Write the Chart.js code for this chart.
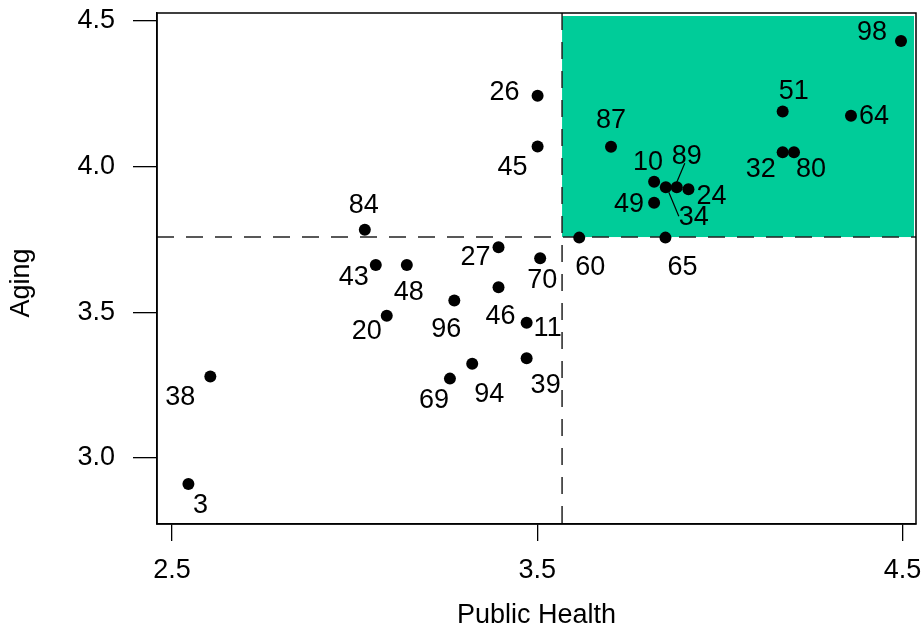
<!DOCTYPE html>
<html>
<head>
<meta charset="utf-8">
<script src="https://cdn.jsdelivr.net/npm/chart.js@4/dist/chart.umd.min.js"></script>
<style>
  html, body { margin: 0; padding: 0; background: #fff; }
  #wrap { width: 923px; height: 630px; }
</style>
</head>
<body>
<div id="wrap"><canvas id="c" width="923" height="630"></canvas></div>
<script>
// Region ids and their two scores
const ids          = [98, 51, 64, 32, 80, 87, 10, 34, 89, 24, 49, 60, 65, 26, 45, 84, 27, 70, 43, 48, 46, 96, 20, 11, 39, 94, 69, 38, 3];
const publicHealth = [4.496, 4.172, 4.359, 4.172, 4.203, 3.702, 3.820, 3.852, 3.882, 3.914, 3.820, 3.615, 3.851, 3.501, 3.501, 3.028, 3.394, 3.508, 3.058, 3.143, 3.394, 3.273, 3.088, 3.471, 3.471, 3.322, 3.261, 2.605, 2.545];
const aging        = [4.431, 4.189, 4.174, 4.049, 4.049, 4.068, 3.948, 3.929, 3.929, 3.922, 3.876, 3.756, 3.756, 4.243, 4.069, 3.783, 3.723, 3.685, 3.662, 3.662, 3.586, 3.540, 3.488, 3.464, 3.342, 3.323, 3.272, 3.279, 2.910];

// Axis ticks and ranges
const xTicks = [2.5, 3.5, 4.5];
const yTicks = [3.0, 3.5, 4.0, 4.5];
const xRange = [2.459, 4.537];
const yRange = [2.773, 4.527];

// Cut-off values that split the plot into quadrants
const cutPublicHealth = 3.568;
const cutAging = 3.758;

// Where each id label sits relative to its point, in pixels
const labelOffsets = [
  [-29, -8], [11, -20], [23, 1], [-22, 17], [17, 17], [0, -26], [-6, -19], [28, 30], [10, -31], [23, 7],
  [-25, 2], [11, 30], [17, 30], [-33, -3], [-25, 21], [-1, -24], [-23, 10], [2, 22], [-22, 13], [2, 28],
  [2, 29], [-8, 29], [-20, 16], [21, 6], [19, 27], [17, 31], [-16, 22], [-30, 21], [12, 21]
];
// Leader lines for crowded labels: id, start offset, end offset (pixels from the point)
const leaders = [
  [89, [8, -24], [0, -5]],
  [34, [3, 5], [13, 29]]
];

const FONT = "'Liberation Sans', Arial, Helvetica, sans-serif";

const quadrantPlugin = {
  id: 'quadrant',
  beforeDatasetsDraw(chart) {
    const { ctx, chartArea: a, scales: { x, y } } = chart;
    const cx = x.getPixelForValue(cutPublicHealth);
    const cy = y.getPixelForValue(cutAging);
    ctx.save();
    // highlighted high/high quadrant
    ctx.fillStyle = '#00CC99';
    ctx.fillRect(cx, a.top + 3, a.right - 2 - cx, cy - a.top - 3);
    // dashed cut lines
    ctx.strokeStyle = '#222';
    ctx.lineWidth = 1.5;
    ctx.setLineDash([17, 12]);
    ctx.beginPath();
    ctx.moveTo(cx, a.top);
    ctx.lineTo(cx, a.bottom);
    ctx.moveTo(a.left, cy);
    ctx.lineTo(a.right, cy);
    ctx.stroke();
    ctx.restore();
  },
  afterDatasetsDraw(chart) {
    const { ctx, chartArea: a, scales: { x, y } } = chart;
    ctx.save();
    // frame around the plotting region
    ctx.strokeStyle = '#000';
    ctx.lineWidth = 1.5;
    ctx.strokeRect(a.left, a.top, a.right - a.left, a.bottom - a.top);
    // leader lines
    ctx.lineWidth = 1.2;
    leaders.forEach(([id, p0, p1]) => {
      const i = ids.indexOf(id);
      const px = x.getPixelForValue(publicHealth[i]);
      const py = y.getPixelForValue(aging[i]);
      ctx.beginPath();
      ctx.moveTo(px + p0[0], py + p0[1]);
      ctx.lineTo(px + p1[0], py + p1[1]);
      ctx.stroke();
    });
    // id labels
    ctx.fillStyle = '#000';
    ctx.font = '27px ' + FONT;
    ctx.textAlign = 'center';
    ctx.textBaseline = 'middle';
    ids.forEach((id, i) => {
      const px = x.getPixelForValue(publicHealth[i]);
      const py = y.getPixelForValue(aging[i]);
      ctx.fillText(String(id), px + labelOffsets[i][0], py + labelOffsets[i][1]);
    });
    // vertical axis title
    ctx.translate(22, 283);
    ctx.rotate(-Math.PI / 2);
    ctx.fillText('Aging', 0, 0);
    ctx.restore();
  }
};

new Chart(document.getElementById('c'), {
  type: 'scatter',
  data: {
    datasets: [{
      data: ids.map((id, i) => ({ x: publicHealth[i], y: aging[i] })),
      backgroundColor: '#000',
      borderColor: '#000',
      pointRadius: 6,
      pointHoverRadius: 6,
      borderWidth: 0
    }]
  },
  options: {
    responsive: false,
    animation: false,
    devicePixelRatio: 1,
    layout: { padding: { left: 0, top: 13, right: 7, bottom: 0 } },
    plugins: { legend: { display: false }, tooltip: { enabled: false } },
    scales: {
      x: {
        type: 'linear',
        min: xRange[0],
        max: xRange[1],
        afterBuildTicks(s) { s.ticks = xTicks.map(v => ({ value: v })); },
        afterFit(s) { s.height = 106; s.paddingLeft = 0; s.paddingRight = 0; },
        grid: { drawOnChartArea: false, drawTicks: true, tickLength: 17, color: '#000', lineWidth: 1.3 },
        border: { display: true, color: '#000', width: 1.5 },
        ticks: {
          color: '#000', padding: 13, maxRotation: 0, autoSkip: false,
          font: { family: FONT, size: 27 },
          callback: v => Number(v).toFixed(1)
        },
        title: {
          display: true, text: 'Public Health', color: '#000',
          font: { family: FONT, size: 27, lineHeight: 1 },
          padding: { top: 0, bottom: 1 }
        }
      },
      y: {
        type: 'linear',
        min: yRange[0],
        max: yRange[1],
        afterBuildTicks(s) { s.ticks = yTicks.map(v => ({ value: v })); },
        afterFit(s) { s.width = 157; s.paddingTop = 0; s.paddingBottom = 0; },
        grid: { drawOnChartArea: false, drawTicks: true, tickLength: 24, color: '#000', lineWidth: 1.3 },
        border: { display: true, color: '#000', width: 1.5 },
        ticks: {
          color: '#000', padding: 18, autoSkip: false,
          font: { family: FONT, size: 27 },
          callback: v => Number(v).toFixed(1)
        }
      }
    }
  },
  plugins: [quadrantPlugin]
});
</script>
</body>
</html>
